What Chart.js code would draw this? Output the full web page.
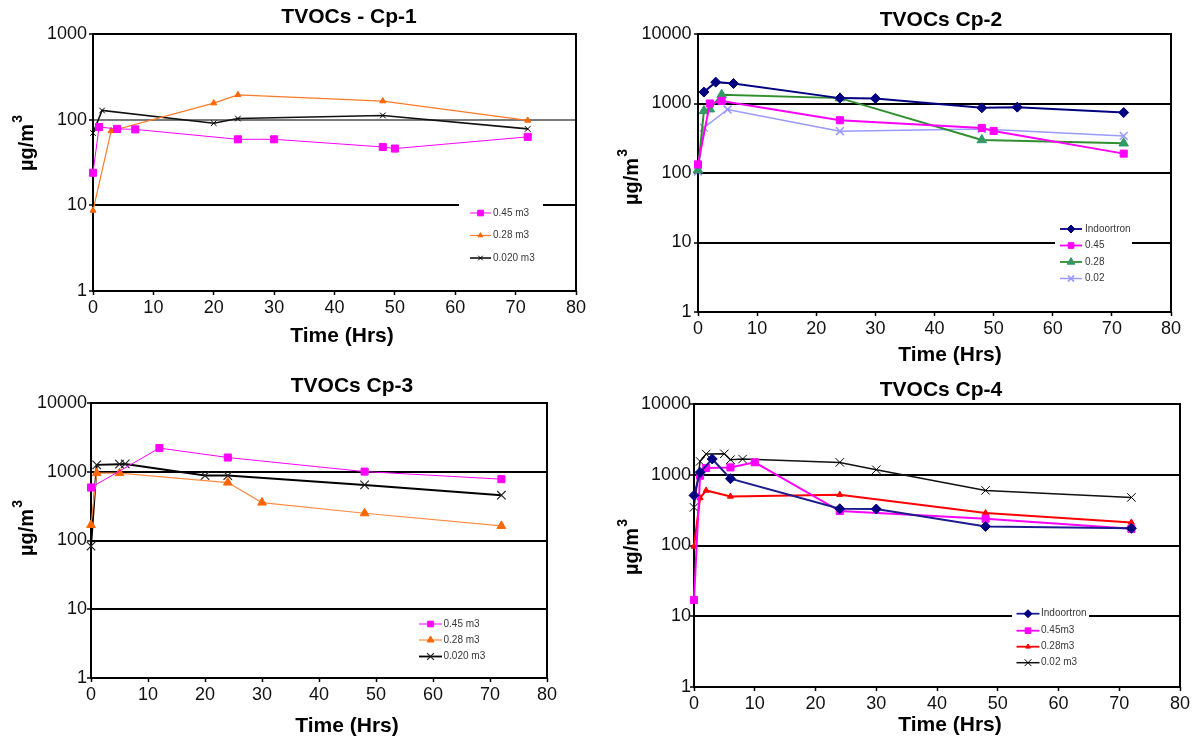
<!DOCTYPE html>
<html>
<head>
<meta charset="utf-8">
<script src="https://cdn.jsdelivr.net/npm/chart.js@4.4.0/dist/chart.umd.min.js"></script>
<style>
html,body{margin:0;padding:0;background:#fff;}
#wrap{position:relative;width:1200px;height:742px;overflow:hidden;background:#fff;}
canvas{position:absolute;display:block;}
</style>
</head>
<body>
<div id="wrap">
<canvas id="c1" width="600" height="370" style="left:0;top:0;width:600px;height:370px"></canvas>
<canvas id="c2" width="600" height="370" style="left:600px;top:0;width:600px;height:370px"></canvas>
<canvas id="c3" width="600" height="372" style="left:0;top:370px;width:600px;height:372px"></canvas>
<canvas id="c4" width="600" height="372" style="left:600px;top:370px;width:600px;height:372px"></canvas>
</div>
<script>
// ---------------- DATA ----------------
const xTicks = [0, 10, 20, 30, 40, 50, 60, 70, 80];
const yTicksCp1 = [1, 10, 100, 1000];
const yTicksCp234 = [1, 10, 100, 1000, 10000];
const xAxisTitle = "Time (Hrs)";
const yAxisTitleMain = "µg/m";
const yAxisTitleSup = "3";

// Cp-1
const cp1Title = "TVOCs - Cp-1";
const cp1Labels = ["0.45 m3", "0.28 m3", "0.020 m3"];
const cp1_045_t = [0, 1, 4, 7, 24, 30, 48, 50, 72];
const cp1_045_v = [24, 82, 78, 77, 59, 59, 48, 46, 63];
const cp1_028_t = [0, 3, 20, 24, 48, 72];
const cp1_028_v = [8.7, 74, 156, 195, 165, 98];
const cp1_002_t = [0, 1.5, 20, 24, 48, 72];
const cp1_002_v = [70, 128, 91, 103, 112, 78];

// Cp-2
const cp2Title = "TVOCs Cp-2";
const cp2Labels = ["Indoortron", "0.45", "0.28", "0.02"];
const cp2_ind_t = [1, 3, 6, 24, 30, 48, 54, 72];
const cp2_ind_v = [1460, 2030, 1940, 1195, 1180, 866, 886, 741];
const cp2_045_t = [0, 2, 4, 24, 48, 50, 72];
const cp2_045_v = [133, 1000, 1090, 575, 445, 403, 190];
const cp2_028_t = [0, 1, 2, 4, 24, 48, 72];
const cp2_028_v = [110, 783, 829, 1333, 1195, 299, 268];
const cp2_002_t = [0, 1, 5, 24, 48, 72];
const cp2_002_v = [105, 450, 820, 399, 430, 342];

// Cp-3
const cp3Title = "TVOCs Cp-3";
const cp3Labels = ["0.45 m3", "0.28 m3", "0.020 m3"];
const cp3_045_t = [0, 12, 24, 48, 72];
const cp3_045_v = [590, 2210, 1610, 1005, 780];
const cp3_028_t = [0, 1, 5, 24, 30, 48, 72];
const cp3_028_v = [168, 955, 955, 696, 356, 249, 163];
const cp3_002_t = [0, 1, 5, 6, 20, 24, 48, 72];
const cp3_002_v = [83, 1260, 1290, 1300, 880, 880, 644, 456];

// Cp-4
const cp4Title = "TVOCs Cp-4";
const cp4Labels = ["Indoortron", "0.45m3", "0.28m3", "0.02 m3"];
const cp4_ind_t = [0, 1, 3, 6, 24, 30, 48, 72];
const cp4_ind_v = [511, 1080, 1670, 880, 331, 328, 186, 175];
const cp4_045_t = [0, 1, 2, 6, 10, 24, 48, 72];
const cp4_045_v = [17, 970, 1245, 1270, 1500, 307, 239, 172];
const cp4_028_t = [0, 1, 2, 6, 24, 48, 72];
const cp4_028_v = [97, 469, 600, 494, 523, 288, 212];
const cp4_002_t = [0, 1, 2, 5, 6, 8, 24, 30, 48, 72];
const cp4_002_v = [346, 1545, 1965, 1980, 1633, 1667, 1495, 1178, 601, 478];

// ---------------- STYLE / HELPERS ----------------
const FONT = '"Liberation Sans", Arial, Helvetica, sans-serif';
Chart.defaults.font.family = FONT;

function series(label, t, v, st) {
  return {
    label: label,
    data: t.map((x, i) => ({ x: x, y: v[i] })),
    borderColor: st.line,
    backgroundColor: st.mfill,
    borderWidth: st.lw,
    pointStyle: st.ps,
    pointRadius: st.r,
    pointHoverRadius: st.r,
    pointBackgroundColor: st.mfill,
    pointBorderColor: st.mline,
    pointBorderWidth: st.mbw,
    tension: 0,
    fill: false,
    clip: false,
    showLine: true
  };
}

function drawMarker(ctx, ds, x, y, scale) {
  const r = ds.pointRadius * scale;
  ctx.save();
  ctx.fillStyle = ds.pointBackgroundColor;
  ctx.strokeStyle = ds.pointBorderColor;
  ctx.lineWidth = ds.pointBorderWidth;
  ctx.beginPath();
  const ps = ds.pointStyle;
  if (ps === 'rect') {
    const s = r * Math.SQRT1_2;
    ctx.rect(x - s, y - s, 2 * s, 2 * s);
    ctx.fill(); ctx.stroke();
  } else if (ps === 'rectRot') {
    ctx.moveTo(x, y - r); ctx.lineTo(x + r, y); ctx.lineTo(x, y + r); ctx.lineTo(x - r, y); ctx.closePath();
    ctx.fill(); ctx.stroke();
  } else if (ps === 'triangle') {
    ctx.moveTo(x, y - r);
    ctx.lineTo(x + r * Math.sin(2 * Math.PI / 3), y - r * Math.cos(2 * Math.PI / 3));
    ctx.lineTo(x + r * Math.sin(4 * Math.PI / 3), y - r * Math.cos(4 * Math.PI / 3));
    ctx.closePath();
    ctx.fill(); ctx.stroke();
  } else if (ps === 'crossRot') {
    const o = r * Math.SQRT1_2;
    ctx.moveTo(x - o, y - o); ctx.lineTo(x + o, y + o);
    ctx.moveTo(x - o, y + o); ctx.lineTo(x + o, y - o);
    ctx.stroke();
  }
  ctx.restore();
}

const panelDecor = {
  id: 'panelDecor',
  beforeDatasetsDraw(chart, args, o) {
    const a = chart.chartArea, ctx = chart.ctx;
    ctx.save();
    ctx.strokeStyle = '#000';
    ctx.lineWidth = 2;
    ctx.strokeRect(a.left, a.top, a.right - a.left, a.bottom - a.top);
    ctx.restore();
  },
  afterDatasetsDraw(chart, args, o) {
    const ctx = chart.ctx, L = o.legend;
    ctx.save();
    ctx.fillStyle = '#fff';
    ctx.fillRect(L.box[0], L.box[1], L.box[2] - L.box[0], L.box[3] - L.box[1]);
    chart.data.datasets.forEach((ds, i) => {
      const y = L.rows[i];
      ctx.strokeStyle = ds.borderColor;
      ctx.lineWidth = Math.min(ds.borderWidth, 1.8);
      ctx.beginPath(); ctx.moveTo(L.x1, y); ctx.lineTo(L.x2, y); ctx.stroke();
      drawMarker(ctx, ds, (L.x1 + L.x2) / 2, y, 0.8);
      ctx.fillStyle = '#383838';
      ctx.font = '10px ' + FONT;
      ctx.textAlign = 'left';
      ctx.textBaseline = 'middle';
      ctx.fillText(ds.label, L.tx, y);
    });
    ctx.restore();
  },
  afterDraw(chart, args, o) {
    const ctx = chart.ctx;
    ctx.save();
    ctx.fillStyle = '#000';
    ctx.textAlign = 'center';
    ctx.textBaseline = 'middle';
    ctx.font = 'bold 21px ' + FONT;
    ctx.fillText(o.title.text, o.title.x, o.title.y);
    ctx.fillText(xAxisTitle, o.xTitle.x, o.xTitle.y);
    // y axis title with superscript
    ctx.translate(o.yTitle.x, o.yTitle.y);
    ctx.rotate(-Math.PI / 2);
    ctx.font = 'bold 20px ' + FONT;
    const w1 = ctx.measureText(yAxisTitleMain).width;
    ctx.font = 'bold 14px ' + FONT;
    const w2 = ctx.measureText(yAxisTitleSup).width;
    const start = -(w1 + w2 + 1) / 2;
    ctx.textAlign = 'left';
    ctx.font = 'bold 20px ' + FONT;
    ctx.fillText(yAxisTitleMain, start, 0);
    ctx.font = 'bold 14px ' + FONT;
    ctx.fillText(yAxisTitleSup, start + w1 + 1, -9);
    ctx.restore();
  }
};

function makeChart(id, P) {
  return new Chart(document.getElementById(id), {
    type: 'line',
    data: { datasets: P.datasets },
    plugins: [panelDecor],
    options: {
      responsive: false,
      animation: false,
      events: [],
      layout: { padding: P.pad },
      plugins: {
        legend: { display: false },
        title: { display: false },
        tooltip: { enabled: false },
        panelDecor: { title: P.title, xTitle: P.xTitle, yTitle: P.yTitle, legend: P.legend }
      },
      scales: {
        x: {
          type: 'linear',
          min: 0, max: 80,
          afterBuildTicks: s => { s.ticks = xTicks.map(v => ({ value: v })); },
          afterFit: s => { s.height = P.xh; },
          ticks: {
            font: { size: 18, family: FONT }, color: '#111', padding: 2,
            maxRotation: 0, autoSkip: false, callback: v => String(v)
          },
          grid: {
            drawOnChartArea: false, drawTicks: true, tickLength: 4,
            tickWidth: 1.5, tickColor: '#000', color: '#000'
          },
          border: { display: false }
        },
        y: {
          type: 'logarithmic',
          min: 1, max: P.yTicks[P.yTicks.length - 1],
          afterBuildTicks: s => { s.ticks = P.yTicks.map(v => ({ value: v })); },
          afterFit: s => { s.width = P.yw; },
          ticks: {
            font: { size: 18, family: FONT }, color: '#111', padding: P.ypad,
            autoSkip: false, callback: v => String(v)
          },
          grid: {
            color: P.gridColor, lineWidth: 2, drawTicks: true, tickLength: 4,
            tickWidth: 1.5, tickColor: '#000'
          },
          border: { display: false }
        }
      }
    }
  });
}

// ---------------- PANELS ----------------
makeChart('c1', {
  datasets: [
    series(cp1Labels[0], cp1_045_t, cp1_045_v, { line: '#ff00ff', lw: 1, ps: 'rect', r: 5, mfill: '#ff00ff', mline: '#ff00ff', mbw: 1 }),
    series(cp1Labels[1], cp1_028_t, cp1_028_v, { line: '#ff7a26', lw: 1.2, ps: 'triangle', r: 3.5, mfill: '#ff6600', mline: '#ff6600', mbw: 1 }),
    series(cp1Labels[2], cp1_002_t, cp1_002_v, { line: '#111111', lw: 1.6, ps: 'crossRot', r: 4, mfill: '#000', mline: '#000', mbw: 1 })
  ],
  yTicks: yTicksCp1,
  pad: { top: 34, right: 24, left: 0, bottom: 0 },
  yw: 93, xh: 79, ypad: 2,
  gridColor: c => (c.tick && c.tick.value === 100 ? '#7a7a7a' : '#000'),
  title: { text: cp1Title, x: 349, y: 17 },
  xTitle: { x: 342, y: 336 },
  yTitle: { x: 27, y: 143 },
  legend: { box: [459, 204, 543, 267], x1: 470, x2: 491, tx: 493, rows: [213, 235.5, 258] }
});

makeChart('c2', {
  datasets: [
    series(cp2Labels[0], cp2_ind_t, cp2_ind_v, { line: '#000080', lw: 2, ps: 'rectRot', r: 5, mfill: '#000080', mline: '#000080', mbw: 1 }),
    series(cp2Labels[1], cp2_045_t, cp2_045_v, { line: '#ff00ff', lw: 2, ps: 'rect', r: 5, mfill: '#ff00ff', mline: '#ff00ff', mbw: 1 }),
    series(cp2Labels[2], cp2_028_t, cp2_028_v, { line: '#2f8f2f', lw: 2, ps: 'triangle', r: 5.5, mfill: '#339966', mline: '#339966', mbw: 1 }),
    series(cp2Labels[3], cp2_002_t, cp2_002_v, { line: '#9999ff', lw: 1.5, ps: 'crossRot', r: 5.5, mfill: '#9999ff', mline: '#9999ff', mbw: 1.5 })
  ],
  yTicks: yTicksCp234,
  pad: { top: 34, right: 29, left: 0, bottom: 0 },
  yw: 98, xh: 58, ypad: 2.5,
  gridColor: '#000',
  title: { text: cp2Title, x: 341, y: 20 },
  xTitle: { x: 350, y: 355 },
  yTitle: { x: 32, y: 177 },
  legend: { box: [455, 223, 532, 283], x1: 460, x2: 482, tx: 485, rows: [229, 245.5, 262, 278.5] }
});

makeChart('c3', {
  datasets: [
    series(cp3Labels[0], cp3_045_t, cp3_045_v, { line: '#ff00ff', lw: 1, ps: 'rect', r: 5, mfill: '#ff00ff', mline: '#ff00ff', mbw: 1 }),
    series(cp3Labels[1], cp3_028_t, cp3_028_v, { line: '#ff8c42', lw: 1.2, ps: 'triangle', r: 5, mfill: '#ff6600', mline: '#ff6600', mbw: 1 }),
    series(cp3Labels[2], cp3_002_t, cp3_002_v, { line: '#000000', lw: 2, ps: 'crossRot', r: 6, mfill: '#000', mline: '#222', mbw: 1.2 })
  ],
  yTicks: yTicksCp234,
  pad: { top: 33, right: 53, left: 0, bottom: 0 },
  yw: 91, xh: 64, ypad: 0,
  gridColor: '#000',
  title: { text: cp3Title, x: 352, y: 16 },
  xTitle: { x: 347, y: 356 },
  yTitle: { x: 27, y: 158 },
  legend: { box: [415, 246, 490, 294], x1: 419, x2: 442, tx: 443.5, rows: [254, 270, 286.5] }
});

makeChart('c4', {
  datasets: [
    series(cp4Labels[0], cp4_ind_t, cp4_ind_v, { line: '#1c1c8f', lw: 2, ps: 'rectRot', r: 5, mfill: '#000080', mline: '#000080', mbw: 1 }),
    series(cp4Labels[1], cp4_045_t, cp4_045_v, { line: '#ff00ff', lw: 2, ps: 'rect', r: 5, mfill: '#ff00ff', mline: '#ff00ff', mbw: 1 }),
    series(cp4Labels[2], cp4_028_t, cp4_028_v, { line: '#ff0000', lw: 2, ps: 'triangle', r: 3.5, mfill: '#ff0000', mline: '#ff0000', mbw: 1 }),
    series(cp4Labels[3], cp4_002_t, cp4_002_v, { line: '#111111', lw: 1.5, ps: 'crossRot', r: 6, mfill: '#000', mline: '#000', mbw: 1 })
  ],
  yTicks: yTicksCp234,
  pad: { top: 34, right: 20, left: 0, bottom: 0 },
  yw: 94, xh: 55, ypad: -1,
  gridColor: '#000',
  title: { text: cp4Title, x: 341, y: 20 },
  xTitle: { x: 350, y: 355 },
  yTitle: { x: 32, y: 177 },
  legend: { box: [412, 237, 489, 300], x1: 416.5, x2: 439.5, tx: 441, rows: [243.7, 260.7, 276.7, 292.7] }
});
</script>
</body>
</html>
